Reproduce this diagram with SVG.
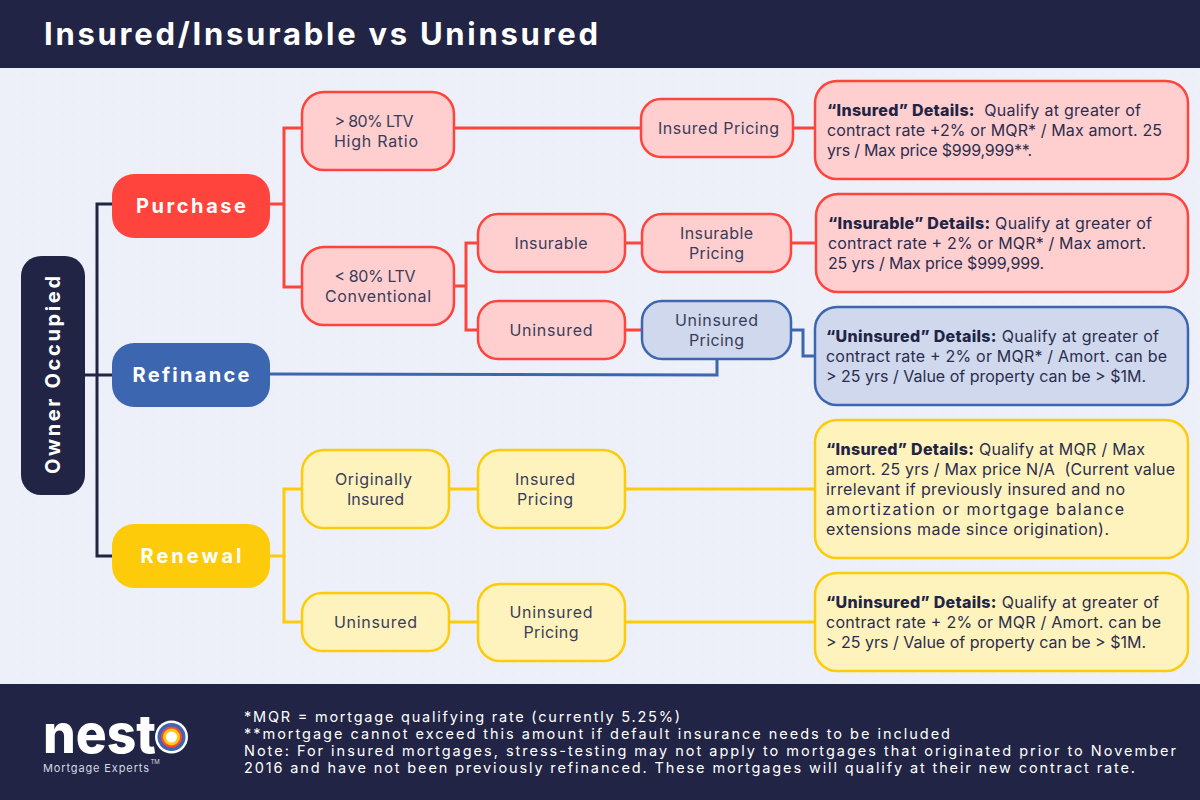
<svg xmlns="http://www.w3.org/2000/svg" width="1200" height="800" viewBox="0 0 1200 800">
<style>
text{font-family:"Inter","Open Sans","Liberation Sans",sans-serif;fill:#2b2d4f}
.bar{fill:#212444}
.c{fill:none;stroke-width:3}
.navy{stroke:#212444}.red{stroke:#fe443c}.blue{stroke:#3d66b1}.yel{stroke:#fdcb0a}
.n{stroke-width:2.5}
.r{fill:#ffcfcf;stroke:#fe443c}.b{fill:#cfd8ec;stroke:#3d66b1}.y{fill:#fff3bd;stroke:#fdcb0a}
.t{font-size:16px;text-anchor:middle;fill:#3a3c5a}
.d{font-size:16px}
.d tspan.h{font-weight:800;fill:#212444}
.m{font-size:20px;font-weight:700;fill:#fff;text-anchor:middle}
.f{font-size:14.5px;fill:#fff}
</style>
<defs><pattern id="dots" width="10" height="10" patternUnits="userSpaceOnUse"><circle cx="3" cy="3" r="0.6" fill="#dfe3ee"/></pattern></defs>
<rect width="1200" height="800" fill="#edf0f8"/>
<rect y="68" width="1200" height="616" fill="url(#dots)"/>
<g id="header"><rect class="bar" width="1200" height="68"/>
<text x="44" y="45" font-size="31" font-weight="700" style="fill:#fff" textLength="554" lengthAdjust="spacing">Insured/Insurable vs Uninsured</text></g>
<g id="connectors">
<path class="c navy" d="M85 375H112M112 204H97V556H112"/>
<path class="c red" d="M270 204H284M302 128H284V287H302M454 128H641M793 128H815M454 286H466M478 243H466V330H478M625 243H642M791 243H816M625 330H642"/>
<path class="c blue" d="M791 330H803V356H815M270 374L717 375V359"/>
<path class="c yel" d="M270 556H284M302 489H284V622H302M449 489H478M625 489H815M449 622H478M625 622H815"/>
</g>
<g id="owner"><rect class="bar" x="21" y="256" width="64" height="239" rx="20"/>
<text class="m" transform="translate(60 375) rotate(-90)" textLength="198" lengthAdjust="spacing">Owner Occupied</text></g>
<g id="purchase"><rect x="112" y="174" width="158" height="64" rx="22" fill="#fe443c"/><text class="m" x="191" y="213" textLength="110" lengthAdjust="spacing">Purchase</text></g>
<g id="refinance"><rect x="112" y="343" width="158" height="64" rx="22" fill="#3d66b1"/><text class="m" x="191" y="382" textLength="117" lengthAdjust="spacing">Refinance</text></g>
<g id="renewal"><rect x="112" y="524" width="158" height="64" rx="22" fill="#fdcb0a"/><text class="m" x="191" y="563" textLength="101" lengthAdjust="spacing">Renewal</text></g>
<g id="high-ratio"><rect class="n r" x="302" y="92" width="152" height="78" rx="22"/><text class="t" x="374" y="127" textLength="79">&gt; 80% LTV</text><text class="t" x="376" y="147" textLength="84">High Ratio</text></g>
<g id="conventional"><rect class="n r" x="302" y="247" width="152" height="78" rx="22"/><text class="t" x="375" y="282" textLength="81">&lt; 80% LTV</text><text class="t" x="378" y="302" textLength="106">Conventional</text></g>
<g id="insured-pricing"><rect class="n r" x="641" y="99" width="152" height="58" rx="20"/><text class="t" x="718.5" y="134" textLength="121">Insured Pricing</text></g>
<g id="insurable"><rect class="n r" x="478" y="214" width="147" height="58" rx="20"/><text class="t" x="551" y="249" textLength="73">Insurable</text></g>
<g id="insurable-pricing"><rect class="n r" x="642" y="214" width="149" height="58" rx="20"/><text class="t" x="716.5" y="239" textLength="73">Insurable</text><text class="t" x="716.5" y="259" textLength="55">Pricing</text></g>
<g id="uninsured"><rect class="n r" x="478" y="301" width="147" height="58" rx="20"/><text class="t" x="551" y="336" textLength="83">Uninsured</text></g>
<g id="uninsured-pricing"><rect class="n b" x="642" y="301" width="149" height="58" rx="20"/><text class="t" x="716.5" y="326" textLength="83">Uninsured</text><text class="t" x="716.5" y="346" textLength="55">Pricing</text></g>
<g id="details-insured"><rect class="n r" x="815" y="81" width="373" height="98" rx="22"/>
<text class="d" x="827" y="116" textLength="314"><tspan class="h">“Insured” Details:</tspan>&#160; Qualify at greater of</text>
<text class="d" x="827" y="136" textLength="335">contract rate +2% or MQR* / Max amort. 25</text>
<text class="d" x="827" y="156" textLength="205">yrs / Max price $999,999**.</text></g>
<g id="details-insurable"><rect class="n r" x="816" y="194" width="372" height="98" rx="22"/>
<text class="d" x="828" y="229" textLength="324"><tspan class="h">“Insurable” Details:</tspan> Qualify at greater of</text>
<text class="d" x="828" y="249" textLength="318">contract rate + 2% or MQR* / Max amort.</text>
<text class="d" x="828" y="269" textLength="216">25 yrs / Max price $999,999.</text></g>
<g id="details-uninsured"><rect class="n b" x="815" y="307" width="373" height="98" rx="22"/>
<text class="d" x="826" y="342" textLength="333"><tspan class="h">“Uninsured” Details:</tspan> Qualify at greater of</text>
<text class="d" x="826" y="362" textLength="341">contract rate + 2% or MQR* / Amort. can be</text>
<text class="d" x="826" y="382" textLength="320">&gt; 25 yrs / Value of property can be &gt; $1M.</text></g>
<g id="originally-insured"><rect class="n y" x="302" y="450" width="147" height="78" rx="22"/><text class="t" x="373.5" y="485" textLength="77">Originally</text><text class="t" x="375.5" y="505" textLength="57">Insured</text></g>
<g id="renewal-insured-pricing"><rect class="n y" x="478" y="450" width="147" height="78" rx="22"/><text class="t" x="545" y="485" textLength="60">Insured</text><text class="t" x="545" y="505" textLength="56">Pricing</text></g>
<g id="renewal-uninsured"><rect class="n y" x="302" y="593" width="147" height="58" rx="20"/><text class="t" x="375.5" y="628" textLength="83">Uninsured</text></g>
<g id="renewal-uninsured-pricing"><rect class="n y" x="478" y="584" width="147" height="77" rx="22"/><text class="t" x="551" y="618" textLength="83">Uninsured</text><text class="t" x="551" y="638" textLength="55">Pricing</text></g>
<g id="details-renewal-insured"><rect class="n y" x="815" y="420" width="373" height="138" rx="22"/>
<text class="d" x="826" y="455" textLength="319"><tspan class="h">“Insured” Details:</tspan> Qualify at MQR / Max</text>
<text class="d" x="826" y="475" textLength="349">amort. 25 yrs / Max price N/A&#160; (Current value</text>
<text class="d" x="826" y="495" textLength="299">irrelevant if previously insured and no</text>
<text class="d" x="826" y="515" textLength="298">amortization or mortgage balance</text>
<text class="d" x="826" y="535" textLength="283">extensions made since origination).</text></g>
<g id="details-renewal-uninsured"><rect class="n y" x="815" y="573" width="373" height="98" rx="22"/>
<text class="d" x="826" y="608" textLength="333"><tspan class="h">“Uninsured” Details:</tspan> Qualify at greater of</text>
<text class="d" x="826" y="628" textLength="335">contract rate + 2% or MQR / Amort. can be</text>
<text class="d" x="826" y="648" textLength="320">&gt; 25 yrs / Value of property can be &gt; $1M.</text></g>
<g id="footer"><rect class="bar" y="684" width="1200" height="116"/>
<text class="f" x="244" y="722" textLength="436">*MQR = mortgage qualifying rate (currently 5.25%)</text>
<text class="f" x="244" y="739" textLength="706">**mortgage cannot exceed this amount if default insurance needs to be included</text>
<text class="f" x="244" y="756" textLength="932">Note: For insured mortgages, stress-testing may not apply to mortgages that originated prior to November</text>
<text class="f" x="244" y="773" textLength="891">2016 and have not been previously refinanced. These mortgages will qualify at their new contract rate.</text></g>
<g id="logo">
<text x="43" y="753" font-size="54" font-weight="800" style="fill:#fff" textLength="113" lengthAdjust="spacingAndGlyphs">nest</text>
<circle cx="171.5" cy="737" r="16.5" fill="#fff"/><circle cx="171.5" cy="737" r="14" fill="#3d66b1"/><circle cx="171.5" cy="737" r="10.5" fill="#fe443c"/><circle cx="171.5" cy="737" r="8.5" fill="#fdcb0a"/><circle cx="171.5" cy="737" r="5.5" fill="#fff"/>
<text x="43" y="772" font-size="11" style="fill:#d5d8e2" textLength="106">Mortgage Experts</text><text x="150.5" y="764" font-size="6" style="fill:#d5d8e2">TM</text>
</g>
</svg>
